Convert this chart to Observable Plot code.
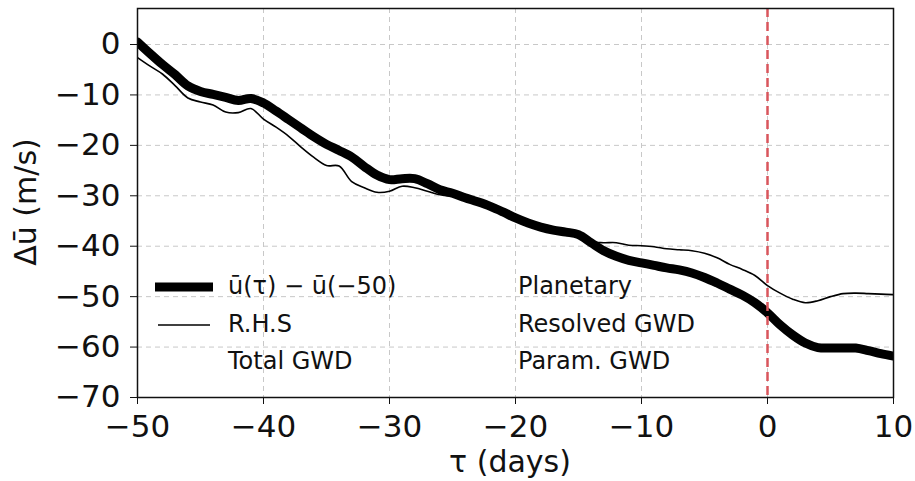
<!DOCTYPE html>
<html>
<head>
<meta charset="utf-8">
<script src="https://cdn.jsdelivr.net/npm/d3@7"></script>
<script src="https://cdn.jsdelivr.net/npm/@observablehq/plot@0.6"></script>
<style>
  html, body { margin: 0; padding: 0; background: #fff; }
  #chart { width: 915px; height: 481px; }
</style>
</head>
<body>
<div id="chart"></div>
<script>
const tau = [-50,-49,-48,-47,-46,-45,-44,-43,-42,-41,-40,-39,-38,-37,-36,-35,-34,-33,-32,-31,-30,-29,-28,-27,-26,-25,-24,-23,-22,-21,-20,-19,-18,-17,-16,-15,-14,-13,-12,-11,-10,-9,-8,-7,-6,-5,-4,-3,-2,-1,0,1,2,3,4,5,6,7,8,9,10];
const deltaU = [0.5,-1.8,-4,-6,-8.2,-9.3,-9.9,-10.5,-11.1,-10.7,-11.6,-13.2,-14.9,-16.6,-18.3,-19.8,-21,-22.3,-24.2,-25.9,-26.8,-26.6,-26.6,-27.6,-28.8,-29.5,-30.4,-31.2,-32.1,-33.2,-34.4,-35.4,-36.2,-36.8,-37.2,-37.7,-39.3,-40.9,-42,-42.8,-43.3,-43.8,-44.3,-44.7,-45.3,-46.2,-47.3,-48.5,-49.7,-51.2,-53.2,-55.6,-57.6,-59.2,-60.1,-60.2,-60.2,-60.2,-60.7,-61.3,-61.8];
const rhs = [-2.6,-4.3,-5.9,-8.2,-10.6,-11.4,-12,-13.4,-13.5,-12.7,-14.8,-16.4,-18.2,-20.4,-22.4,-24,-24.1,-27.2,-28.4,-29.3,-29.1,-28.1,-28.4,-29.1,-29.8,-30.1,-30.6,-31.3,-32.2,-33.2,-34.3,-35.3,-36.1,-36.7,-37.1,-37.9,-39.1,-39.3,-39.3,-39.8,-39.9,-40.1,-40.5,-40.7,-40.9,-41.4,-42.3,-43.6,-44.6,-45.8,-47.8,-49.3,-50.5,-51.2,-50.8,-50,-49.4,-49.3,-49.4,-49.5,-49.6];
const xTicks = [-50,-40,-30,-20,-10,0,10];
const yTicks = [0,-10,-20,-30,-40,-50,-60,-70];
const eventDay = [0];
const legendLeft = ["ū(τ) − ū(−50)", "R.H.S", "Total GWD"];
const legendRight = ["Planetary", "Resolved GWD", "Param. GWD"];
const xLabel = "τ (days)";
const yLabel = "Δū (m/s)";

const rows = tau.map((t, i) => ({tau: t, obs: deltaU[i], rhs: rhs[i]}));
const fmt = d3.format("d");
const font = "DejaVu Sans";

const plot = Plot.plot({
  width: 915,
  height: 481,
  marginTop: 8,
  marginBottom: 84,
  marginLeft: 137,
  marginRight: 22,
  style: {fontFamily: font, background: "#fff", color: "#111"},
  x: {domain: [-50, 10]},
  y: {domain: [-70, 7.14]},
  marks: [
    Plot.gridX(xTicks, {stroke: "#c8c8c8", strokeOpacity: 1, strokeDasharray: "5,4"}),
    Plot.gridY(yTicks, {stroke: "#c8c8c8", strokeOpacity: 1, strokeDasharray: "5,4"}),
    Plot.line(rows, {x: "tau", y: "rhs", stroke: "#000", strokeWidth: 1.6, curve: "catmull-rom", clip: true}),
    Plot.line(rows, {x: "tau", y: "obs", stroke: "#000", strokeWidth: 9, curve: "catmull-rom", clip: true}),
    Plot.ruleX(eventDay, {stroke: "#d9555c", strokeWidth: 2.5, strokeDasharray: "9,5"}),
    Plot.axisX(xTicks, {tickSize: 7, tickPadding: 10, fontSize: 31, tickFormat: fmt, label: null, stroke: "#111"}),
    Plot.axisY(yTicks, {tickSize: 7, tickPadding: 10, fontSize: 31, tickFormat: fmt, label: null, stroke: "#111"}),
    Plot.frame({stroke: "#111", strokeWidth: 1.5})
  ]
});

const svg = d3.select(plot);
// axis titles
svg.append("text").attr("x", 510).attr("y", 463).attr("text-anchor", "middle").attr("dominant-baseline", "middle")
  .attr("font-family", font).attr("font-size", 30).attr("fill", "#111").text(xLabel);
svg.append("text").attr("transform", "translate(27,202) rotate(-90)").attr("text-anchor", "middle").attr("dominant-baseline", "middle")
  .attr("font-family", font).attr("font-size", 30).attr("fill", "#111").text(yLabel);

// legend
const lg = svg.append("g").attr("font-family", font).attr("font-size", 24).attr("fill", "#111").attr("text-anchor", "start");
const rowsY = [287, 325, 362];
lg.append("line").attr("x1", 155).attr("x2", 213).attr("y1", rowsY[0]).attr("y2", rowsY[0]).attr("stroke", "#000").attr("stroke-width", 9);
lg.append("line").attr("x1", 158).attr("x2", 210).attr("y1", rowsY[1]).attr("y2", rowsY[1]).attr("stroke", "#000").attr("stroke-width", 1.6);
legendLeft.forEach((t, i) => lg.append("text").attr("x", 228).attr("y", rowsY[i]).attr("dominant-baseline", "middle").attr("text-anchor", "start").text(t));
legendRight.forEach((t, i) => lg.append("text").attr("x", 518).attr("y", rowsY[i]).attr("dominant-baseline", "middle").attr("text-anchor", "start").text(t));

document.getElementById("chart").appendChild(plot);
</script>
</body>
</html>
